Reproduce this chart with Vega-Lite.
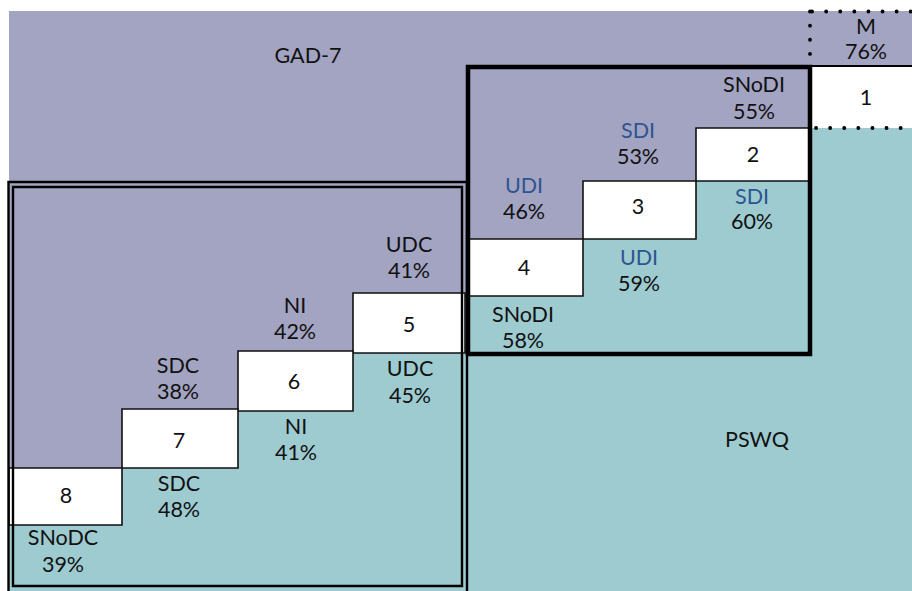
{
  "$schema": "https://vega.github.io/schema/vega-lite/v6.json",
  "width": 912,
  "height": 591,
  "padding": 0,
  "autosize": {"type": "none"},
  "background": "white",
  "config": {"view": {"stroke": null}, "text": {"font": "Lato"}},
  "datasets": {
    "fills": [
      {"region": "GAD-7", "x1": 9, "x2": 912, "y1": 11, "y2": 591},
      {"region": "PSWQ", "x1": 9, "x2": 912, "y1": 525, "y2": 591},
      {"region": "PSWQ", "x1": 122, "x2": 912, "y1": 468, "y2": 591},
      {"region": "PSWQ", "x1": 238, "x2": 912, "y1": 411, "y2": 591},
      {"region": "PSWQ", "x1": 353, "x2": 912, "y1": 353, "y2": 591},
      {"region": "PSWQ", "x1": 468, "x2": 912, "y1": 296, "y2": 591},
      {"region": "PSWQ", "x1": 583, "x2": 912, "y1": 239, "y2": 591},
      {"region": "PSWQ", "x1": 696, "x2": 912, "y1": 181, "y2": 591},
      {"region": "PSWQ", "x1": 810, "x2": 912, "y1": 128, "y2": 591},
      {"region": "box", "x1": 810, "x2": 912, "y1": 66, "y2": 128}
    ],
    "boxes": [
      {"step": 2, "x1": 696, "x2": 809, "y1": 128, "y2": 181},
      {"step": 3, "x1": 583, "x2": 696, "y1": 181, "y2": 239},
      {"step": 4, "x1": 468, "x2": 583, "y1": 239, "y2": 296},
      {"step": 5, "x1": 353, "x2": 465, "y1": 293, "y2": 353},
      {"step": 6, "x1": 238, "x2": 353, "y1": 351, "y2": 411},
      {"step": 7, "x1": 122, "x2": 238, "y1": 409, "y2": 468},
      {"step": 8, "x1": 9, "x2": 122, "y1": 468, "y2": 525}
    ],
    "frames": [
      {"group": "C outer", "x1": 8.5, "x2": 467, "y1": 182, "y2": 596},
      {"group": "C inner", "x1": 13, "x2": 462, "y1": 187, "y2": 586}
    ],
    "frameI": [
      {"group": "I", "x1": 468, "x2": 810, "y1": 67, "y2": 354}
    ],
    "dotted": [
      {"x1": 812, "x2": 912, "y1": 11.5, "y2": 11.5},
      {"x1": 810, "x2": 810, "y1": 11.5, "y2": 62},
      {"x1": 816, "x2": 912, "y1": 128, "y2": 128}
    ],
    "solid": [
      {"x1": 810, "x2": 912, "y1": 66, "y2": 66}
    ],
    "labels": [
      {"label": "GAD-7", "x": 308, "y": 57, "kind": "plain"},
      {"label": "PSWQ", "x": 757, "y": 441, "kind": "plain"},
      {"label": "M", "x": 866, "y": 28, "kind": "plain"},
      {"label": "76%", "x": 866, "y": 53, "kind": "plain"},
      {"label": "1", "x": 866, "y": 99, "kind": "plain"},
      {"label": "2", "x": 753, "y": 156, "kind": "plain"},
      {"label": "3", "x": 638, "y": 208, "kind": "plain"},
      {"label": "4", "x": 524, "y": 269, "kind": "plain"},
      {"label": "5", "x": 409, "y": 326, "kind": "plain"},
      {"label": "6", "x": 294, "y": 383, "kind": "plain"},
      {"label": "7", "x": 179, "y": 442, "kind": "plain"},
      {"label": "8", "x": 66, "y": 497, "kind": "plain"},
      {"label": "SNoDI", "x": 754, "y": 86, "kind": "plain"},
      {"label": "55%", "x": 754, "y": 113, "kind": "plain"},
      {"label": "SDI", "x": 638, "y": 132, "kind": "intervention"},
      {"label": "53%", "x": 638, "y": 158, "kind": "plain"},
      {"label": "UDI", "x": 524, "y": 187, "kind": "intervention"},
      {"label": "46%", "x": 524, "y": 213, "kind": "plain"},
      {"label": "UDC", "x": 409, "y": 246, "kind": "plain"},
      {"label": "41%", "x": 409, "y": 272, "kind": "plain"},
      {"label": "NI", "x": 295, "y": 307, "kind": "plain"},
      {"label": "42%", "x": 295, "y": 333, "kind": "plain"},
      {"label": "SDC", "x": 178, "y": 367, "kind": "plain"},
      {"label": "38%", "x": 178, "y": 393, "kind": "plain"},
      {"label": "SDI", "x": 752, "y": 198, "kind": "intervention"},
      {"label": "60%", "x": 752, "y": 223, "kind": "plain"},
      {"label": "UDI", "x": 639, "y": 259, "kind": "intervention"},
      {"label": "59%", "x": 639, "y": 285, "kind": "plain"},
      {"label": "SNoDI", "x": 523, "y": 316, "kind": "plain"},
      {"label": "58%", "x": 523, "y": 342, "kind": "plain"},
      {"label": "UDC", "x": 410, "y": 370, "kind": "plain"},
      {"label": "45%", "x": 410, "y": 397, "kind": "plain"},
      {"label": "NI", "x": 296, "y": 428, "kind": "plain"},
      {"label": "41%", "x": 296, "y": 454, "kind": "plain"},
      {"label": "SDC", "x": 179, "y": 485, "kind": "plain"},
      {"label": "48%", "x": 179, "y": 511, "kind": "plain"},
      {"label": "SNoDC", "x": 63, "y": 539, "kind": "plain"},
      {"label": "39%", "x": 63, "y": 566, "kind": "plain"}
    ]
  },
  "encoding": {
    "x": {"field": "x1", "type": "quantitative", "scale": {"domain": [0, 912], "nice": false, "zero": false}, "axis": null},
    "y": {"field": "y1", "type": "quantitative", "scale": {"domain": [0, 591], "nice": false, "zero": false, "reverse": true}, "axis": null}
  },
  "resolve": {"scale": {"color": "independent"}},
  "layer": [
    {
      "data": {"name": "fills"},
      "mark": {"type": "rect", "strokeWidth": 0},
      "encoding": {
        "x2": {"field": "x2"},
        "y2": {"field": "y2"},
        "color": {"field": "region", "type": "nominal", "scale": {"domain": ["GAD-7", "PSWQ", "box"], "range": ["#A3A3C2", "#9DCBD0", "#FFFFFF"]}, "legend": null}
      }
    },
    {
      "data": {"name": "boxes"},
      "mark": {"type": "rect", "fill": "white", "stroke": "#111111", "strokeWidth": 1.6},
      "encoding": {"x2": {"field": "x2"}, "y2": {"field": "y2"}}
    },
    {
      "data": {"name": "frames"},
      "mark": {"type": "rect", "fillOpacity": 0, "stroke": "#000000", "strokeWidth": 2.4},
      "encoding": {"x2": {"field": "x2"}, "y2": {"field": "y2"}}
    },
    {
      "data": {"name": "frameI"},
      "mark": {"type": "rect", "fillOpacity": 0, "stroke": "#000000", "strokeWidth": 4.5},
      "encoding": {"x2": {"field": "x2"}, "y2": {"field": "y2"}}
    },
    {
      "data": {"name": "solid"},
      "mark": {"type": "rule", "stroke": "#000000", "strokeWidth": 2},
      "encoding": {"x2": {"field": "x2"}, "y2": {"field": "y2"}}
    },
    {
      "data": {"name": "dotted"},
      "mark": {"type": "rule", "stroke": "#000000", "strokeWidth": 3.8, "strokeCap": "round", "strokeDash": [0.1, 14]},
      "encoding": {"x2": {"field": "x2"}, "y2": {"field": "y2"}}
    },
    {
      "data": {"name": "labels"},
      "mark": {"type": "text", "fontSize": 21.5, "align": "center", "baseline": "middle"},
      "encoding": {
        "x": {"field": "x", "type": "quantitative"},
        "y": {"field": "y", "type": "quantitative"},
        "text": {"field": "label"},
        "color": {"field": "kind", "type": "nominal", "scale": {"domain": ["plain", "intervention"], "range": ["#111111", "#2E5590"]}, "legend": null}
      }
    }
  ]
}
